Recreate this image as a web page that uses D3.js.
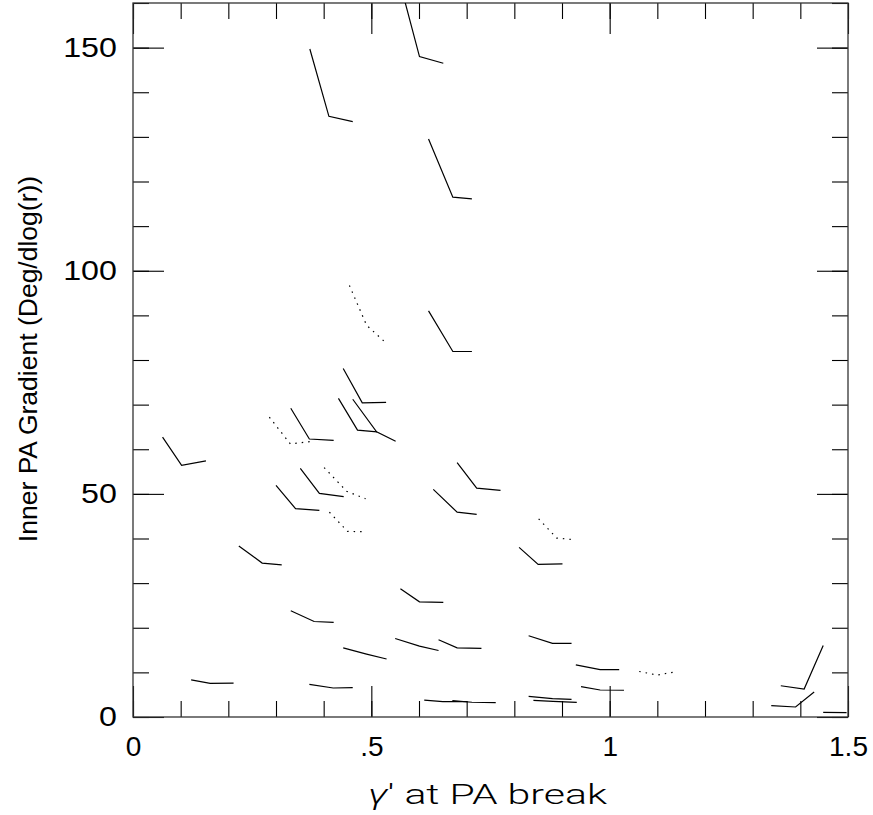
<!DOCTYPE html>
<html>
<head>
<meta charset="utf-8">
<script src="https://cdn.jsdelivr.net/npm/d3@7"></script>
<style>
  body { margin: 0; background: #fff; }
  svg { display: block; }
</style>
</head>
<body>
<svg width="873" height="815"></svg>
<script>
// each track: start, break, end  (gamma' values and PA gradient values)
var trackGamma = [
  [0.371, 0.411, 0.461], [0.571, 0.601, 0.651], [0.620, 0.671, 0.711],
  [0.454, 0.490, 0.532], [0.620, 0.671, 0.711], [0.441, 0.481, 0.531],
  [0.431, 0.471, 0.512], [0.461, 0.511, 0.551], [0.331, 0.370, 0.421],
  [0.286, 0.330, 0.371], [0.062, 0.102, 0.153], [0.351, 0.391, 0.442],
  [0.401, 0.448, 0.488], [0.300, 0.341, 0.391], [0.412, 0.450, 0.490],
  [0.222, 0.271, 0.312], [0.680, 0.721, 0.771], [0.630, 0.680, 0.721],
  [0.851, 0.889, 0.929], [0.810, 0.850, 0.901], [0.331, 0.380, 0.421],
  [0.441, 0.490, 0.532], [0.122, 0.162, 0.211], [0.370, 0.420, 0.461],
  [0.561, 0.601, 0.651], [0.550, 0.601, 0.641], [0.641, 0.680, 0.731],
  [0.830, 0.880, 0.920], [0.929, 0.980, 1.020], [1.062, 1.100, 1.139],
  [0.940, 0.980, 1.030], [0.611, 0.650, 0.701], [0.670, 0.711, 0.761],
  [0.830, 0.880, 0.920], [0.840, 0.881, 0.931], [1.359, 1.408, 1.448],
  [1.339, 1.390, 1.429], [1.448, 1.497]
];
var trackGrad = [
  [149.7, 134.6, 133.4], [160.1, 148.0, 146.5], [129.5, 116.5, 116.1],
  [96.7, 87.8, 83.7], [91.0, 81.9, 81.9], [78.1, 70.4, 70.5],
  [71.4, 64.3, 63.9], [71.2, 63.9, 61.8], [69.2, 62.3, 62.0],
  [67.2, 61.2, 61.7], [62.7, 56.4, 57.4], [55.7, 50.1, 49.4],
  [55.9, 50.6, 48.9], [51.9, 46.7, 46.3], [45.9, 41.6, 41.5],
  [38.3, 34.5, 34.1], [57.0, 51.3, 50.8], [51.0, 45.9, 45.4],
  [44.4, 40.1, 39.7], [38.0, 34.2, 34.3], [23.8, 21.4, 21.2],
  [15.5, 14.1, 13.0], [8.3, 7.55, 7.6], [7.3, 6.5, 6.6],
  [28.75, 25.8, 25.7], [17.6, 15.9, 14.9], [17.3, 15.5, 15.4],
  [18.2, 16.5, 16.5], [11.7, 10.6, 10.6], [10.2, 9.4, 10.15],
  [6.8, 6.05, 6.0], [3.8, 3.43, 3.43], [3.65, 3.3, 3.2],
  [4.64, 4.1, 3.97], [3.74, 3.52, 3.29], [7.0, 6.27, 16.0],
  [2.53, 2.24, 5.6], [1.05, 0.96]
];
var trackDotted = [3, 9, 12, 14, 18, 29];

var xMinor = d3.range(0, 1.51, 0.1).map(d => +d.toFixed(1));
var xMajor = [0, 0.5, 1, 1.5];
var yMinor = d3.range(0, 161, 10);
var yMajor = [0, 50, 100, 150];

var svg = d3.select("svg");
var plotL = 133, plotR = 848, plotT = 3, plotB = 717;

var x = d3.scaleLinear().domain([0, 1.5]).range([plotL, plotR]);
var y = d3.scaleLinear().domain([0, 160]).range([plotB, plotT]);

svg.append("clipPath").attr("id", "plotclip")
  .append("rect")
  .attr("x", plotL).attr("y", plotT)
  .attr("width", plotR - plotL).attr("height", plotB - plotT);

// ticks on all four sides, pointing inward
function tickAxis(axis, values, size, fmt) {
  return axis.tickValues(values).tickSize(-size).tickSizeOuter(0).tickFormat(fmt || "");
}

var fmtX = d => String(d).replace(/^0\./, ".");

var axes = svg.append("g").attr("class", "axes");

axes.append("g").attr("transform", "translate(0," + plotB + ")")
  .call(tickAxis(d3.axisBottom(x), xMinor, 16));
var xLab = axes.append("g").attr("transform", "translate(0," + plotB + ")")
  .call(tickAxis(d3.axisBottom(x), xMajor, 31, fmtX).tickPadding(19));
axes.append("g").attr("transform", "translate(0," + plotT + ")")
  .call(tickAxis(d3.axisTop(x), xMinor, 16));
axes.append("g").attr("transform", "translate(0," + plotT + ")")
  .call(tickAxis(d3.axisTop(x), xMajor, 31));

axes.append("g").attr("transform", "translate(" + plotL + ",0)")
  .call(tickAxis(d3.axisLeft(y), yMinor, 16));
var yLab = axes.append("g").attr("transform", "translate(" + plotL + ",0)")
  .call(tickAxis(d3.axisLeft(y), yMajor, 31, d3.format("d")).tickPadding(14));
axes.append("g").attr("transform", "translate(" + plotR + ",0)")
  .call(tickAxis(d3.axisRight(y), yMinor, 16));
axes.append("g").attr("transform", "translate(" + plotR + ",0)")
  .call(tickAxis(d3.axisRight(y), yMajor, 31));

axes.selectAll(".domain").remove();
axes.selectAll(".tick line").attr("stroke", "#000").attr("stroke-width", 1.1);
axes.selectAll("text")
  .attr("fill", "#000")
  .style("font-family", "'Liberation Sans', Arial, sans-serif")
  .style("font-size", "28px");
// y labels look a bit wider than plain Arial
yLab.selectAll("text").attr("transform", "scale(1.15,1)");

svg.append("rect")
  .attr("x", plotL).attr("y", plotT)
  .attr("width", plotR - plotL).attr("height", plotB - plotT)
  .attr("fill", "none").attr("stroke", "#333").attr("stroke-width", 1.3);

// tracks
var line = d3.line().x(d => x(d[0])).y(d => y(d[1]));
var tracks = trackGamma.map((g, i) => g.map((v, j) => [v, trackGrad[i][j]]));

svg.append("g").attr("clip-path", "url(#plotclip)")
  .selectAll("path")
  .data(tracks)
  .enter().append("path")
  .attr("d", line)
  .attr("fill", "none")
  .attr("stroke", "#000")
  .attr("stroke-width", 1.2)
  .attr("stroke-dasharray", (d, i) => trackDotted.includes(i) ? "1.5,5" : null);

// axis titles
svg.append("text")
  .attr("transform", "translate(37,359) rotate(-90)")
  .attr("text-anchor", "middle")
  .style("font-family", "'Liberation Sans', Arial, sans-serif")
  .style("font-size", "26.5px")
  .text("Inner PA Gradient (Deg/dlog(r))");

var xt = svg.append("text")
  .attr("x", 368).attr("y", 804)
  .attr("textLength", 239)
  .attr("lengthAdjust", "spacingAndGlyphs")
  .style("font-family", "Roboto, 'DejaVu Sans', sans-serif")
  .style("font-weight", 300)
  .style("font-size", "27px");
xt.append("tspan").style("font-style", "italic").text("\u03b3");
xt.append("tspan").text("\u2032 at PA break");
</script>
</body>
</html>
